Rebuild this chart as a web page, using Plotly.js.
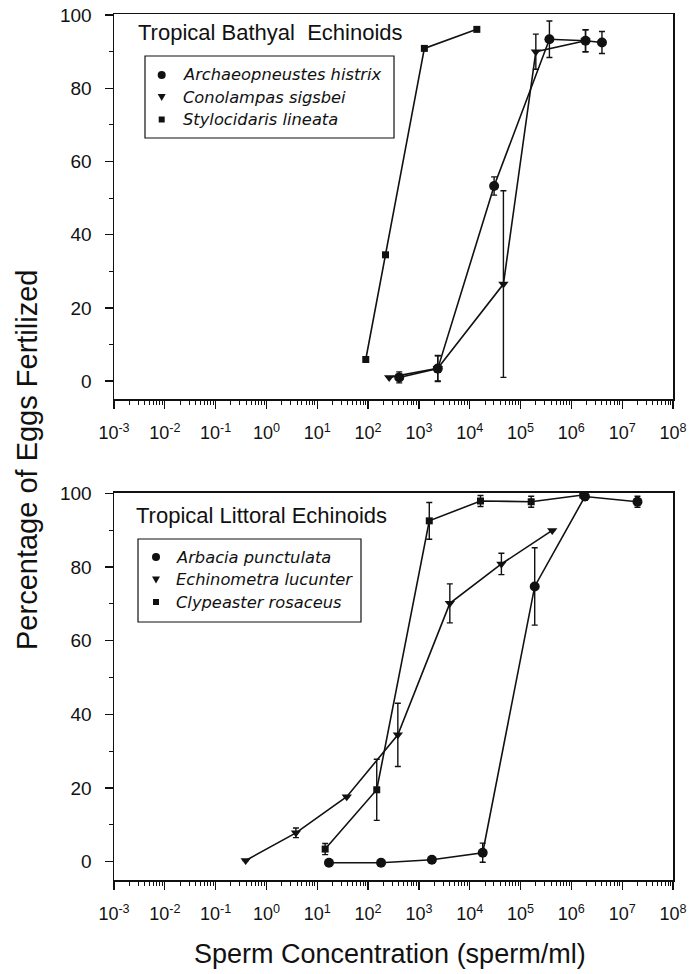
<!DOCTYPE html>
<html>
<head>
<meta charset="utf-8">
<script src="https://cdn.plot.ly/plotly-3.0.1.min.js"></script>
<style>html,body{margin:0;padding:0;background:#fff;}#chart{width:689px;height:974px;}</style>
</head>
<body>
<div id="chart"></div>
<script>
// ---------- data ----------
const xTickVals = [1e-3, 1e-2, 1e-1, 1e0, 1e1, 1e2, 1e3, 1e4, 1e5, 1e6, 1e7, 1e8];
const xTickText = ['10<sup>-3</sup>','10<sup>-2</sup>','10<sup>-1</sup>','10<sup>0</sup>','10<sup>1</sup>','10<sup>2</sup>','10<sup>3</sup>','10<sup>4</sup>','10<sup>5</sup>','10<sup>6</sup>','10<sup>7</sup>','10<sup>8</sup>'];

// Top panel: Tropical Bathyal Echinoids
const archX = [410, 2350, 30200, 370000, 1900000, 4000000];
const archY = [1.0, 3.4, 53.3, 93.4, 93.0, 92.5];
const archErr = [1.5, 3.5, 2.5, 5, 3, 3];

const conoX = [260, 2350, 46000, 200000, 1900000];
const conoY = [1.0, 3.5, 26.5, 90.0, 93.0];
const conoErr = [0, 3.5, 25.5, 4.8, 3];

const styloX = [90, 220, 1280, 13800];
const styloY = [5.9, 34.5, 90.9, 96.1];

// Bottom panel: Tropical Littoral Echinoids
const arbX = [17, 180, 1800, 18000, 190000, 1850000, 20000000];
const arbY = [-0.3, -0.3, 0.5, 2.4, 74.7, 99.1, 97.7];
const arbErr = [0, 0, 0.8, 2.6, 10.5, 1, 1.5];

const echX = [0.39, 3.8, 38, 385, 4060, 42000, 420000];
const echY = [0.3, 7.8, 17.6, 34.4, 70.1, 80.8, 89.9];
const echErr = [0, 1.3, 0, 8.6, 5.3, 2.9, 0];

const clyX = [14.3, 148, 1600, 16300, 162000, 1680000];
const clyY = [3.4, 19.5, 92.5, 97.9, 97.7, 99.5];
const clyErr = [1.5, 8.3, 5, 1.5, 1.5, 0.5];

const panelTitles = ['Tropical Bathyal\u00A0 Echinoids', 'Tropical Littoral Echinoids'];
const topNames = ['Archaeopneustes histrix', 'Conolampas sigsbei', 'Stylocidaris lineata'];
const botNames = ['Arbacia punctulata', 'Echinometra lucunter', 'Clypeaster rosaceus'];
const xTitle = 'Sperm Concentration (sperm/ml)';
const yTitle = 'Percentage of Eggs Fertilized';

// ---------- layout geometry ----------
const W = 689, Hh = 974;
const L = 114, R = 673, T = 14, B = 880;
const PW = R - L, PH = B - T;
const px = v => (v - L) / PW;
const py = v => (B - v) / PH;

const ink = '#111';
const FONT = 'Liberation Sans, Arial, Helvetica, sans-serif';
const LFONT = 'DejaVu Sans, Liberation Sans, sans-serif';

function series(name, x, y, err, sym, size, xa, ya) {
  const t = {
    name: name, x: x, y: y, xaxis: xa, yaxis: ya, type: 'scatter', mode: 'lines+markers',
    showlegend: false, hoverinfo: 'skip',
    line: {color: ink, width: 1.6},
    marker: {symbol: sym, size: size, color: ink, line: {width: 0}}
  };
  if (err) t.error_y = {type: 'data', array: err, visible: true, color: ink, thickness: 1.4, width: 3};
  return t;
}

const traces = [
  series(topNames[2], styloX, styloY, null, 'square', 7, 'x', 'y'),
  series(topNames[1], conoX, conoY, conoErr, 'triangle-down', 9, 'x', 'y'),
  series(topNames[0], archX, archY, archErr, 'circle', 10, 'x', 'y'),
  series(botNames[1], echX, echY, echErr, 'triangle-down', 9, 'x2', 'y2'),
  series(botNames[2], clyX, clyY, clyErr, 'square', 7, 'x2', 'y2'),
  series(botNames[0], arbX, arbY, arbErr, 'circle', 10, 'x2', 'y2')
];

const minorX = [];
for (let e = -3; e < 8; e++) for (let m = 2; m <= 9; m++) minorX.push(m * Math.pow(10, e));

function xAxis(anchor) {
  return {
    type: 'log', range: [-3, 8], domain: [0, 1], anchor: anchor,
    tickmode: 'array', tickvals: xTickVals, ticktext: xTickText,
    ticks: 'outside', ticklen: 8, tickwidth: 1.3, tickcolor: ink,
    minor: {tickmode: 'array', tickvals: minorX, ticks: 'outside', ticklen: 4, tickwidth: 1, tickcolor: ink},
    showline: true, linecolor: ink, linewidth: 1.5, mirror: true,
    showgrid: false, zeroline: false,
    tickfont: {family: FONT, size: 18, color: ink},
    ticklabelstandoff: 9
  };
}
function yAxis(domain, anchor, range) {
  return {
    range: range, domain: domain, anchor: anchor,
    tickmode: 'linear', tick0: 0, dtick: 20,
    ticks: 'outside', ticklen: 8, tickwidth: 1.3, tickcolor: ink,
    minor: {dtick: 10, ticks: 'outside', ticklen: 4, tickwidth: 1, tickcolor: ink},
    showline: true, linecolor: ink, linewidth: 1.5, mirror: true,
    showgrid: false, zeroline: false,
    tickfont: {family: FONT, size: 19, color: ink},
    ticklabelstandoff: 9
  };
}

// ---------- hand-built legends (box, symbols, italic names) ----------
const shapes = [];
const annotations = [];
function legendBox(x0, x1, y0, y1, mx, tx, rows, names) {
  shapes.push({type: 'rect', xref: 'paper', yref: 'paper', x0: px(x0), x1: px(x1), y0: py(y1), y1: py(y0),
               line: {color: ink, width: 1.2}, fillcolor: 'rgba(0,0,0,0)'});
  const syms = ['circle', 'triangle', 'square'];
  rows.forEach((ry, i) => {
    const s = syms[i];
    if (s === 'circle') {
      shapes.push({type: 'circle', xref: 'paper', yref: 'paper', x0: px(mx - 4), x1: px(mx + 4), y0: py(ry + 4), y1: py(ry - 4),
                   fillcolor: ink, line: {width: 0}});
    } else if (s === 'triangle') {
      const p = 'M' + px(mx - 4) + ',' + py(ry - 3) + ' L' + px(mx + 4) + ',' + py(ry - 3) + ' L' + px(mx) + ',' + py(ry + 4) + ' Z';
      shapes.push({type: 'path', xref: 'paper', yref: 'paper', path: p, fillcolor: ink, line: {width: 0}});
    } else {
      shapes.push({type: 'rect', xref: 'paper', yref: 'paper', x0: px(mx - 3), x1: px(mx + 3), y0: py(ry + 3), y1: py(ry - 3),
                   fillcolor: ink, line: {width: 0}});
    }
    annotations.push({text: names[i], xref: 'paper', yref: 'paper', x: px(tx), y: py(ry), xanchor: 'left', yanchor: 'middle',
                      showarrow: false, font: {family: LFONT, size: 16.3, style: 'italic', color: ink}});
  });
}
legendBox(145, 394, 56, 138, 161.7, 181, [75, 97, 119.5], topNames);
legendBox(138, 361, 539, 622, 156, 174, [557, 579.5, 602], botNames);

annotations.push(
  {text: panelTitles[0], xref: 'paper', yref: 'paper', x: px(136), y: py(33),
   xanchor: 'left', yanchor: 'middle', showarrow: false, font: {family: FONT, size: 22, color: ink}},
  {text: panelTitles[1], xref: 'paper', yref: 'paper', x: px(134), y: py(515),
   xanchor: 'left', yanchor: 'middle', showarrow: false, font: {family: FONT, size: 22, color: ink}},
  {text: yTitle, xref: 'paper', yref: 'paper', x: px(27), y: py(460),
   xanchor: 'center', yanchor: 'middle', textangle: -90, showarrow: false, font: {family: FONT, size: 29, color: ink}},
  {text: xTitle, xref: 'paper', yref: 'paper', x: px(390), y: py(954),
   xanchor: 'center', yanchor: 'middle', showarrow: false, font: {family: FONT, size: 27, color: ink}}
);

const layout = {
  width: W, height: Hh,
  margin: {l: L, r: W - R, t: T, b: Hh - B, pad: 0},
  paper_bgcolor: '#fff', plot_bgcolor: '#fff',
  font: {family: FONT, color: ink},
  showlegend: false,
  xaxis: xAxis('y'),
  yaxis: yAxis([py(399), py(14)], 'x', [-4.9, 100.3]),
  xaxis2: xAxis('y2'),
  yaxis2: yAxis([0, py(492.5)], 'x2', [-5, 100.2]),
  shapes: shapes,
  annotations: annotations
};

Plotly.newPlot('chart', traces, layout, {displayModeBar: false, staticPlot: true});
</script>
</body>
</html>
